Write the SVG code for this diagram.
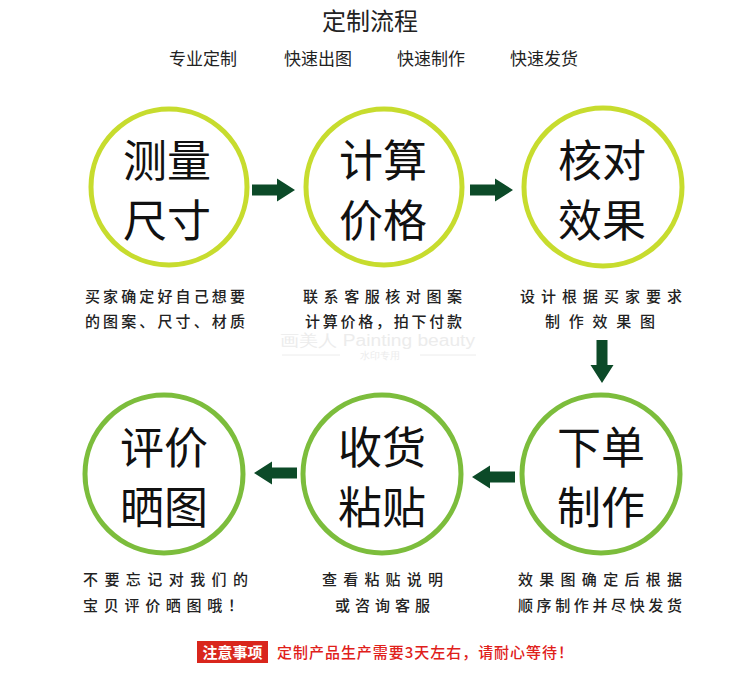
<svg xmlns="http://www.w3.org/2000/svg" width="750" height="685" viewBox="0 0 750 685">
<defs>
<style>
text{font-family:"Noto Sans CJK SC","Noto Sans",sans-serif;}
.title{font-size:24px;fill:#222;text-anchor:middle;font-weight:400;}
.sub{font-size:17px;fill:#222;text-anchor:middle;font-weight:400;}
.big{font-size:44px;fill:#111;text-anchor:middle;font-weight:400;}
.desc{font-size:15px;fill:#222;font-weight:500;}
.c1{fill:none;stroke:#c7dc2e;stroke-width:5;}
.c2{fill:none;stroke:#7cbd3c;stroke-width:5;}
.arrow{fill:#0c4a28;}
.wm{font-family:"Liberation Sans",sans-serif;fill:#ececec;}
</style>
<path id="ar" d="M0,-5.5 H25 V-11.5 L43,0 L25,11.5 V5.5 H0 Z"/>
</defs>
<rect width="750" height="685" fill="#fff"/>

<text class="title" x="370" y="30">定制流程</text>
<text class="sub" x="203" y="65">专业定制</text>
<text class="sub" x="318" y="65">快速出图</text>
<text class="sub" x="431" y="65">快速制作</text>
<text class="sub" x="544" y="65">快速发货</text>

<g id="watermark">
<text class="wm" x="280" y="346" font-size="16" textLength="195" lengthAdjust="spacingAndGlyphs">画美人 Painting beauty</text>
<line x1="282" y1="355" x2="340" y2="355" stroke="#ececec" stroke-width="1"/>
<line x1="420" y1="355" x2="476" y2="355" stroke="#ececec" stroke-width="1"/>
<text class="wm" x="380" y="359" font-size="10" text-anchor="middle">水印专用</text>
</g>

<g id="n1">
<circle class="c1" cx="169" cy="187" r="78"/>
<text class="big" x="167" y="177">测量</text>
<text class="big" x="167" y="237">尺寸</text>
<text class="desc" x="85" y="302" textLength="160" lengthAdjust="spacing">买家确定好自己想要</text>
<text class="desc" x="85" y="327" textLength="160" lengthAdjust="spacing">的图案、尺寸、材质</text>
</g>
<g id="n2">
<circle class="c1" cx="384" cy="187" r="78"/>
<text class="big" x="383" y="177">计算</text>
<text class="big" x="383" y="237">价格</text>
<text class="desc" x="303" y="302" textLength="159" lengthAdjust="spacing">联系客服核对图案</text>
<text class="desc" x="305" y="327" textLength="157" lengthAdjust="spacing">计算价格，拍下付款</text>
</g>
<g id="n3">
<circle class="c1" cx="603" cy="187" r="79"/>
<text class="big" x="602" y="177">核对</text>
<text class="big" x="602" y="237">效果</text>
<text class="desc" x="520" y="302" textLength="162" lengthAdjust="spacing">设计根据买家要求</text>
<text class="desc" x="545" y="327" textLength="110" lengthAdjust="spacing">制作效果图</text>
</g>
<g id="n4">
<circle class="c2" cx="601" cy="474" r="79"/>
<text class="big" x="601" y="464">下单</text>
<text class="big" x="601" y="524">制作</text>
<text class="desc" x="518" y="585" textLength="164" lengthAdjust="spacing">效果图确定后根据</text>
<text class="desc" x="518" y="611" textLength="164" lengthAdjust="spacing">顺序制作并尽快发货</text>
</g>
<g id="n5">
<circle class="c2" cx="382" cy="474" r="79"/>
<text class="big" x="382" y="464">收货</text>
<text class="big" x="382" y="524">粘贴</text>
<text class="desc" x="322" y="585" textLength="121" lengthAdjust="spacing">查看粘贴说明</text>
<text class="desc" x="335" y="611" textLength="95" lengthAdjust="spacing">或咨询客服</text>
</g>
<g id="n6">
<circle class="c2" cx="164" cy="474" r="79"/>
<text class="big" x="164" y="464">评价</text>
<text class="big" x="164" y="524">晒图</text>
<text class="desc" x="83" y="585" textLength="165" lengthAdjust="spacing">不要忘记对我们的</text>
<text class="desc" x="83" y="611" textLength="160" lengthAdjust="spacing">宝贝评价晒图哦！</text>
</g>

<g id="connectors" class="arrow">
<use href="#ar" transform="translate(252,190)"/>
<use href="#ar" transform="translate(470,190)"/>
<use href="#ar" transform="translate(602,340) rotate(90)"/>
<use href="#ar" transform="translate(297,473) rotate(180)"/>
<use href="#ar" transform="translate(515,477) rotate(180)"/>
</g>

<g id="note">
<rect x="197" y="641" width="71" height="22" fill="#d9261c"/>
<text x="232.5" y="658" font-size="15" font-weight="bold" fill="#fff" text-anchor="middle">注意事项</text>
<text x="277" y="658" font-size="15" fill="#e0201a" font-weight="500" textLength="296" lengthAdjust="spacing">定制产品生产需要3天左右，请耐心等待！</text>
</g>
</svg>
